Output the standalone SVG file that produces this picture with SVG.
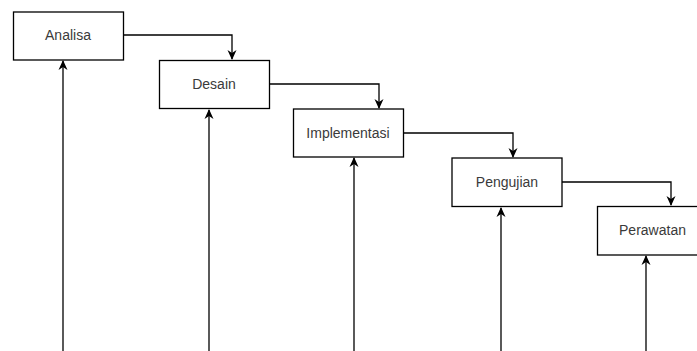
<svg xmlns="http://www.w3.org/2000/svg" width="697" height="351" viewBox="0 0 697 351">
<defs>
<style>
.box{fill:#fff;stroke:#000;stroke-width:1.3}
.lbl{font-family:"Liberation Sans",Arial,sans-serif;font-size:14px;fill:#3a3a3a;text-anchor:middle;dominant-baseline:central}
.con{fill:none;stroke:#000;stroke-width:1.3}
</style>
<marker id="ah" viewBox="0 0 10 10" refX="9" refY="5" markerWidth="10" markerHeight="10" markerUnits="userSpaceOnUse" orient="auto">
<path d="M0,0.5 L10,5 L0,9.5 L3,5 Z" fill="#000"/>
</marker>
</defs>
<rect width="697" height="351" fill="#fff"/>
<g id="connectors">
<path class="con" d="M123,35 H232 V59" marker-end="url(#ah)"/>
<path class="con" d="M269,84 H379 V108" marker-end="url(#ah)"/>
<path class="con" d="M403,133 H513 V157" marker-end="url(#ah)"/>
<path class="con" d="M562,182 H671 V205" marker-end="url(#ah)"/>
<path class="con" d="M63,351 V61" marker-end="url(#ah)"/>
<path class="con" d="M209,351 V110" marker-end="url(#ah)"/>
<path class="con" d="M354,351 V158" marker-end="url(#ah)"/>
<path class="con" d="M501,351 V208" marker-end="url(#ah)"/>
<path class="con" d="M646,351 V256" marker-end="url(#ah)"/>
</g>
<g id="analisa"><rect class="box" x="13.5" y="12" width="110" height="48"/><text class="lbl" x="68" y="35">Analisa</text></g>
<g id="desain"><rect class="box" x="159.5" y="60.5" width="110" height="48"/><text class="lbl" x="214" y="84">Desain</text></g>
<g id="implementasi"><rect class="box" x="293.5" y="109" width="110" height="48"/><text class="lbl" x="348" y="132.5">Implementasi</text></g>
<g id="pengujian"><rect class="box" x="452" y="158" width="110" height="48.5"/><text class="lbl" x="507" y="181.5">Pengujian</text></g>
<g id="perawatan"><rect class="box" x="597.5" y="206.5" width="110" height="48.5"/><text class="lbl" x="652.5" y="230">Perawatan</text></g>
</svg>
